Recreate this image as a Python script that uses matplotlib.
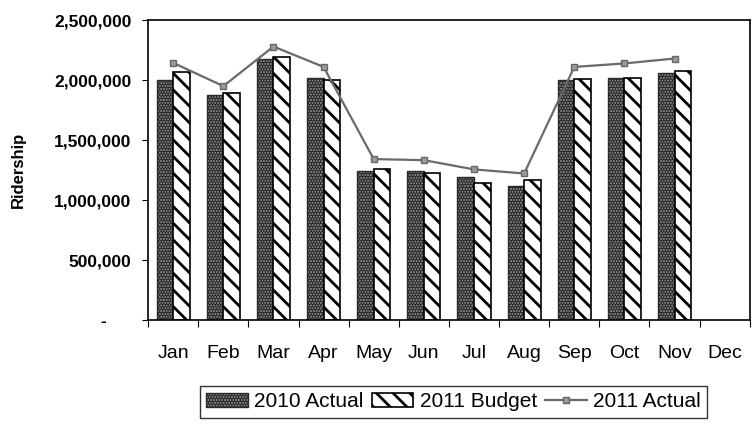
import numpy as np
import matplotlib.pyplot as plt
from matplotlib.ticker import FuncFormatter

plt.rcParams['font.family'] = ['Liberation Sans', 'DejaVu Sans']
plt.rcParams['hatch.linewidth'] = 2.0

months = ["Jan", "Feb", "Mar", "Apr", "May", "Jun", "Jul", "Aug", "Sep", "Oct", "Nov", "Dec"]
actual_2010 = [2000000, 1875000, 2175000, 2014000, 1244000, 1242000, 1194000, 1117000, 2000000, 2014000, 2061000, np.nan]
budget_2011 = [2064000, 1890000, 2190000, 2000000, 1258000, 1228000, 1139000, 1167000, 2006000, 2014000, 2075000, np.nan]
actual_2011 = [2144000, 1950000, 2280000, 2110000, 1342000, 1333000, 1256000, 1222000, 2110000, 2139000, 2180000, np.nan]

x = np.arange(len(months))
w = 0.33

fig = plt.figure(figsize=(7.52, 4.28), dpi=100)
ax = fig.add_axes([0.197, 0.252, 0.8, 0.701])

# 2010 actual: speckled grey, 2011 budget: white with diagonal stripes
b1 = ax.bar(x - w / 2, actual_2010, w, facecolor="#8c8c8c", edgecolor="#2a2a2a",
            hatch="......", linewidth=1.0, label="2010 Actual")
b2 = ax.bar(x + w / 2, budget_2011, w, facecolor="white", edgecolor="black",
            hatch="\\\\", linewidth=1.2, label="2011 Budget")
ln, = ax.plot(x, actual_2011, color="#6a6a6a", linewidth=1.6, marker="s",
              markersize=5, markerfacecolor="#9a9a9a", markeredgecolor="#666666",
              label="2011 Actual")

ax.set_xlim(-0.5, 11.5)
ax.set_ylim(0, 2500000)
ax.set_yticks([0, 500000, 1000000, 1500000, 2000000, 2500000])
# accounting style: zero shown as a dash set in from the right
ax.yaxis.set_major_formatter(FuncFormatter(lambda v, p: "-     " if v == 0 else f"{int(v):,}"))
ax.tick_params(axis="y", labelsize=12.5, direction="out", length=4, pad=8)

# tick marks between months, labels centred on the bars
ax.set_xticks(np.arange(-0.5, 12, 1.0))
ax.set_xticklabels([])
ax.set_xticks(x, minor=True)
ax.set_xticklabels(months, minor=True, fontsize=14)
ax.tick_params(axis="x", which="major", direction="out", length=5)
ax.tick_params(axis="x", which="minor", length=0, pad=18)

for lbl in ax.get_yticklabels():
    lbl.set_fontweight("bold")

ax.set_ylabel("Ridership", fontsize=12, fontweight="bold", labelpad=20)

for s in ax.spines.values():
    s.set_color("black")
    s.set_linewidth(1.2)

leg = fig.legend(handles=[b1, b2, ln], loc="lower center", bbox_to_anchor=(0.603, 0.0),
                 ncol=3, fontsize=15, frameon=True, fancybox=False, handlelength=2.0,
                 handletextpad=0.3, columnspacing=0.4, borderpad=0.3)
leg.get_frame().set_edgecolor("black")
leg.get_frame().set_linewidth(1.0)

fig.savefig("out.png", dpi=100)
